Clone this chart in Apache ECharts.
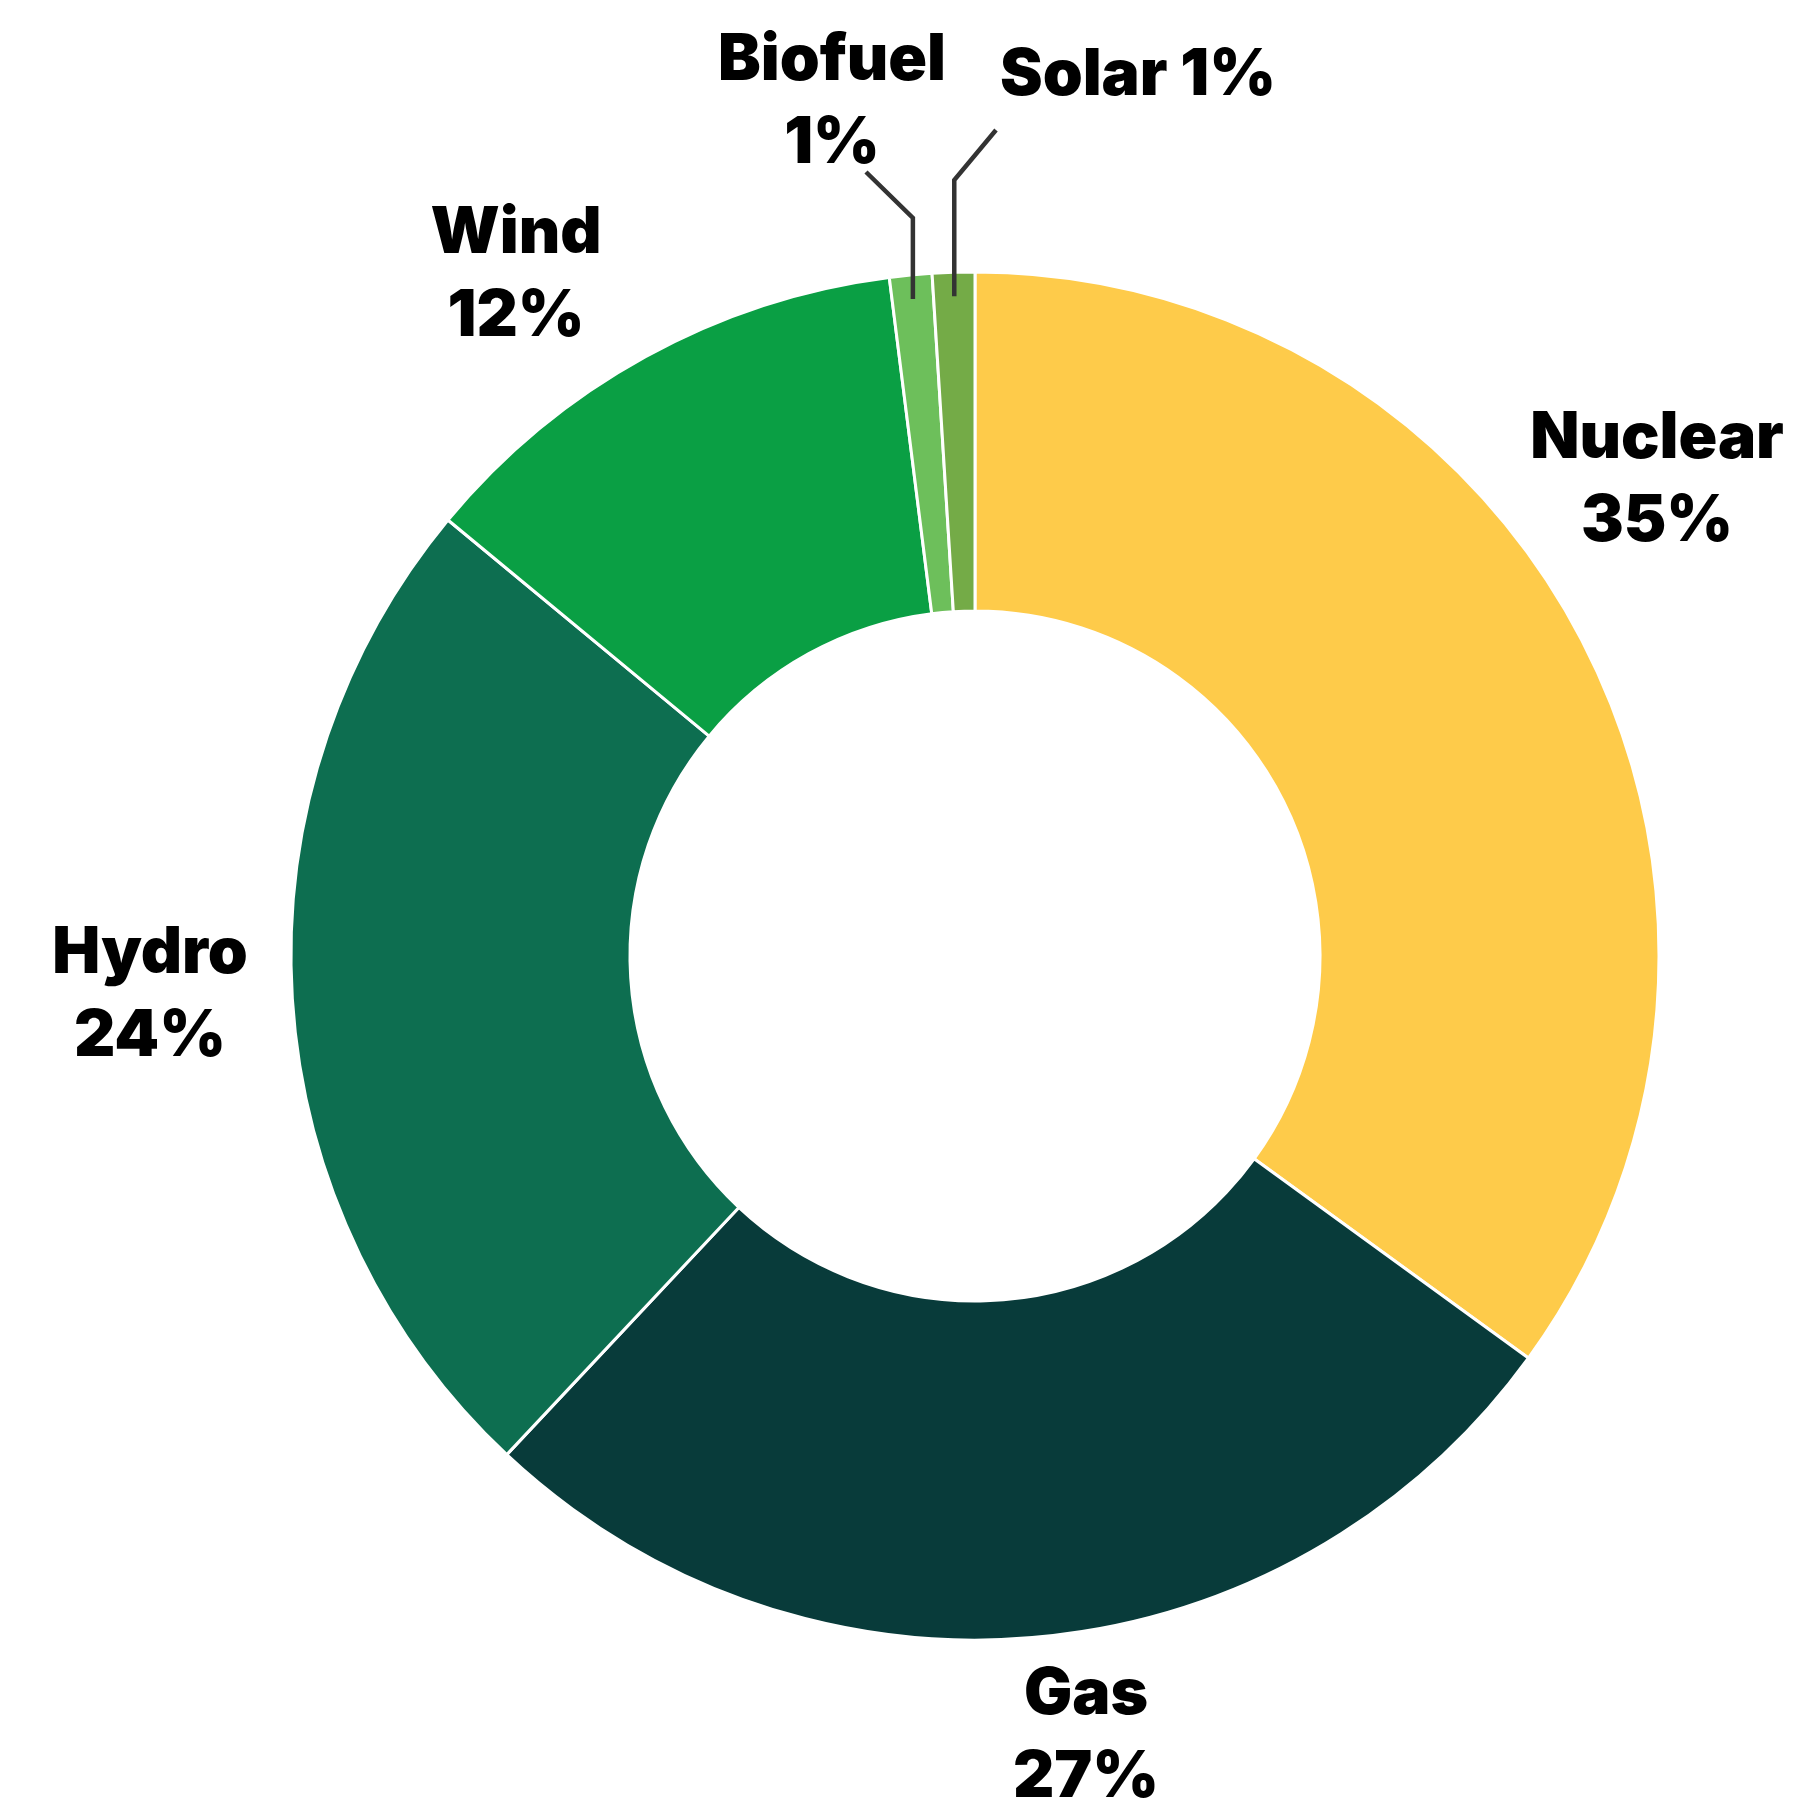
<!DOCTYPE html>
<html>
<head>
<meta charset="utf-8">
<script src="https://cdn.jsdelivr.net/npm/echarts@6/dist/echarts.min.js"></script>
<style>
html,body{margin:0;padding:0;background:#fff;}
#chart{width:1793px;height:1800px;}
</style>
</head>
<body>
<div id="chart"></div>
<script>
// ---- data ----
const categories = ['Nuclear', 'Gas', 'Hydro', 'Wind', 'Biofuel', 'Solar'];
const values = [35, 27, 24, 12, 1, 1];
const colors = ['#FECB4A', '#083B3A', '#0D6E50', '#0A9F44', '#6DBF5B', '#74AB47'];

// ---- layout (label placement only) ----
const CENTER = [975, 956];
const RADIUS = [345, 684];
const labelPos = {
  Nuclear: [1657, 480],
  Gas: [1086, 1736],
  Hydro: [150, 995],
  Wind: [516, 275],
  Biofuel: [832, 102],
  Solar: [1138, 76]
};
const leaders = {
  Biofuel: { bendY: 218, end: [866, 172] },
  Solar: { bendY: 180, end: [996, 130] }
};
const singleLine = { Solar: true };

const total = values.reduce((a, b) => a + b, 0);
function midAngle(i) {
  let cum = 0;
  for (let k = 0; k < i; k++) cum += values[k];
  return (cum + values[i] / 2) / total * Math.PI * 2; // clockwise from 12 o'clock
}

// leader lines: start inside the slice at its mid-angle, go straight up, then angle to the label
const leaderGraphics = [];
categories.forEach((name, i) => {
  const ld = leaders[name];
  if (!ld) return;
  const a = midAngle(i);
  const r = 660;
  const sx = CENTER[0] + r * Math.sin(a);
  const sy = CENTER[1] - r * Math.cos(a);
  leaderGraphics.push({
    type: 'polyline',
    z: 100,
    silent: true,
    shape: { points: [[sx, sy], [sx, ld.bendY], ld.end] },
    style: { stroke: '#333333', lineWidth: 4.5, fill: null, lineJoin: 'miter', lineCap: 'butt' }
  });
});

const chart = echarts.init(document.getElementById('chart'), null, { renderer: 'canvas' });
const data = categories.map((name, i) => ({
  name: name,
  value: values[i],
  itemStyle: { color: colors[i] }
}));

chart.setOption({
  backgroundColor: '#ffffff',
  animation: false,
  graphic: leaderGraphics,
  series: [{
    type: 'pie',
    center: CENTER,
    radius: RADIUS,
    startAngle: 90,
    clockwise: true,
    avoidLabelOverlap: false,
    itemStyle: { borderColor: '#ffffff', borderWidth: 3 },
    label: {
      show: true,
      position: 'outside',
      formatter: p => singleLine[p.name] ? p.name + ' ' + p.value + '%' : p.name + '\n' + p.value + '%',
      fontFamily: 'Inter, "Open Sans", sans-serif',
      fontWeight: 900,
      fontSize: 64,
      lineHeight: 83,
      color: '#000000',
      align: 'center'
    },
    labelLine: { show: false },
    labelLayout: function (params) {
      const name = categories[params.dataIndex];
      const pos = labelPos[name];
      return { x: pos[0], y: pos[1], align: 'center', verticalAlign: 'middle' };
    },
    data: data
  }]
});
</script>
</body>
</html>
